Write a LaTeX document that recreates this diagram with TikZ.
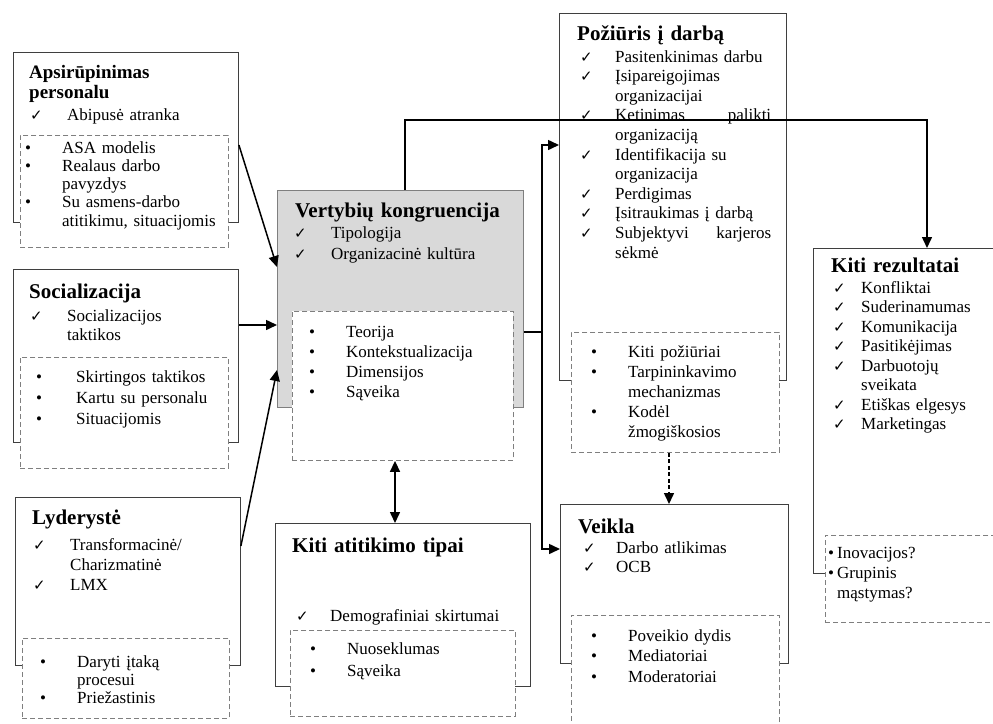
\documentclass[tikz,border=0pt]{standalone}
\usepackage{fontspec}
\setmainfont{Liberation Serif}
\newfontfamily\symfont{DejaVu Sans}
\usetikzlibrary{arrows.meta,positioning}
\definecolor{boxline}{HTML}{3F3F3F}
\definecolor{dashline}{HTML}{7F7F7F}
\definecolor{corefill}{HTML}{D9D9D9}
\newcommand{\cmk}{{\symfont\fontsize{15}{15}\selectfont ✓}}
\newcommand{\bul}{•}
\newcommand{\nl}{\hfil\break}
\newcommand{\jst}[2]{\hbox to 156pt{#1\hfill #2}}
\newcommand{\itm}[3][37pt]{\hangindent=#1\hangafter=1\noindent\makebox[#1][l]{#2}#3\par}
\tikzset{
  wh/.style 2 args={minimum width=#1pt,minimum height=#2pt},
  box/.style={draw=boxline,line width=0.9pt,fill=white,inner sep=0pt,anchor=north west},
  corebox/.style={box,draw=dashline,fill=corefill},
  dbox/.style={draw=dashline,line width=0.9pt,dash pattern=on 5pt off 3pt,fill=white,inner sep=0pt,anchor=north west},
  ttl/.style={anchor=base west,inner sep=0pt,text width=230pt,align=left,font=\fontsize{21}{20}\selectfont\bfseries},
  lst/.style={anchor=base west,inner sep=0pt,text width=220pt,align=left,font=\fontsize{17}{#1}\selectfont},
  lst/.default=18pt,
  link/.style={line width=1.5pt},
  conn/.style={-{Triangle[length=11pt,width=10pt]},line width=1.5pt},
  biconn/.style={{Triangle[length=11pt,width=10pt]}-{Triangle[length=11pt,width=10pt]},line width=1.5pt},
}
\begin{document}
\begin{tikzpicture}[x=1pt,y=-1pt]
  \useasboundingbox (0,0) rectangle (993,723);
  \node[box,wh={225}{170}] (apsi) at (13,52) {};
  \node[box,wh={225}{173}] (soc) at (13,269) {};
  \node[box,wh={225}{168}] (lyd) at (15,497) {};
  \node[corebox,wh={246}{217}] (vert) at (277,190) {};
  \node[box,wh={255}{163}] (kat) at (275,523) {};
  \node[box,wh={227}{367}] (poz) at (559,13) {};
  \node[box,wh={228}{159}] (veik) at (560,504) {};
  \node[box,wh={200}{325}] (kr) at (813,248) {};
  \node[dbox,wh={208}{112}] (apsid) at (20,135) {};
  \node[dbox,wh={208}{111}] (socd) at (20,357) {};
  \node[dbox,wh={207}{80}] (lydd) at (22,638) {};
  \node[dbox,wh={221}{149}] (vertd) at (292,311) {};
  \node[dbox,wh={225}{86}] (katd) at (290,630) {};
  \node[dbox,wh={208}{120}] (pozd) at (571,332) {};
  \node[dbox,wh={208}{115}] (veikd) at (571,615) {};
  \node[dbox,wh={190}{87}] (krd) at (825,535) {};

  \node[ttl,font=\fontsize{19}{20}\selectfont\bfseries] (apsit) at (29,78) {Apsirūpinimas\nl personalu};
  \node[lst] (apsic) at (30,120) {\itm{\cmk}{Abipusė atranka}};
  \node[lst=18.3pt] (apsib) at (25,153) {\itm{\bul}{ASA modelis}\itm{\bul}{Realaus darbo\nl pavyzdys}\itm{\bul}{Su asmens-darbo\nl atitikimu, situacijomis}};

  \node[ttl] (soct) at (29,298) {Socializacija};
  \node[lst=19pt] (socc) at (30,321) {\itm{\cmk}{Socializacijos\nl taktikos}};
  \node[lst=21pt] (socb) at (36,382) {\itm[40pt]{\bul}{Skirtingos taktikos}\itm[40pt]{\bul}{Kartu su personalu}\itm[40pt]{\bul}{Situacijomis}};

  \node[ttl] (lydt) at (32,524) {Lyderystė};
  \node[lst=20pt] (lydc) at (33,550) {\itm{\cmk}{Transformacinė/\nl Charizmatinė}\itm{\cmk}{LMX}};
  \node[lst] (lydb) at (40,667) {\itm{\bul}{Daryti įtaką\nl procesui}\itm{\bul}{Priežastinis}};

  \node[ttl] (vertt) at (295,217) {Vertybių kongruencija};
  \node[lst=21pt] (vertc) at (294,238) {\itm{\cmk}{Tipologija}\itm{\cmk}{Organizacinė kultūra}};
  \node[lst=20.3pt] (vertb) at (309,337) {\itm{\bul}{Teorija}\itm{\bul}{Kontekstualizacija}\itm{\bul}{Dimensijos}\itm{\bul}{Sąveika}};

  \node[ttl] (katt) at (292,552) {Kiti atitikimo tipai};
  \node[lst] (katc) at (296,621) {\itm[34pt]{\cmk}{Demografiniai skirtumai}};
  \node[lst=22pt] (katb) at (310,654) {\itm{\bul}{Nuoseklumas}\itm{\bul}{Sąveika}};

  \node[ttl] (pozt) at (577,40) {Požiūris į darbą};
  \node[lst=19.6pt] (pozc) at (580,62) {\itm[35pt]{\cmk}{Pasitenkinimas darbu}\itm[35pt]{\cmk}{Įsipareigojimas\nl organizacijai}\itm[35pt]{\cmk}{\jst{Ketinimas}{palikti}\nl organizaciją}\itm[35pt]{\cmk}{Identifikacija su\nl organizacija}\itm[35pt]{\cmk}{Perdigimas}\itm[35pt]{\cmk}{Įsitraukimas į darbą}\itm[35pt]{\cmk}{\jst{Subjektyvi}{karjeros}\nl sėkmė}};
  \node[lst=20pt] (pozb) at (591,357) {\itm{\bul}{Kiti požiūriai}\itm{\bul}{Tarpininkavimo\nl mechanizmas}\itm{\bul}{Kodėl\nl žmogiškosios}};

  \node[ttl] (veikt) at (578,533) {Veikla};
  \node[lst=19pt] (veikc) at (583,553) {\itm[33pt]{\cmk}{Darbo atlikimas}\itm[33pt]{\cmk}{OCB}};
  \node[lst=20.5pt] (veikb) at (591,641) {\itm{\bul}{Poveikio dydis}\itm{\bul}{Mediatoriai}\itm{\bul}{Moderatoriai}};

  \node[ttl] (krt) at (831,272) {Kiti rezultatai};
  \node[lst=19.5pt] (krc) at (833,293) {\itm[28pt]{\cmk}{Konfliktai}\itm[28pt]{\cmk}{Suderinamumas}\itm[28pt]{\cmk}{Komunikacija}\itm[28pt]{\cmk}{Pasitikėjimas}\itm[28pt]{\cmk}{Darbuotojų\nl sveikata}\itm[28pt]{\cmk}{Etiškas elgesys}\itm[28pt]{\cmk}{Marketingas}};
  \node[lst=20pt] (krb) at (828,558) {\itm[9pt]{\bul}{Inovacijos?}\itm[9pt]{\bul}{Grupinis\nl mąstymas?}};

  \draw[conn] (apsi.east |- 0,145) -- (vert.west |- 0,267);
  \draw[conn] (soc.east |- 0,325) -- (vert.west |- 0,325);
  \draw[conn] (lyd.east |- 0,546) -- (vert.west |- 0,370);
  \draw[conn] (vert.north -| 405,0) |- (927,120) -- (kr.north -| 927,0);
  \draw[link] (vert.east |- 0,332) -- (542,332);
  \draw[biconn] (poz.west |- 0,145) -| (542,549) -- (veik.west |- 0,549);
  \draw[biconn] (vertd.south -| 395,0) -- (kat.north -| 395,0);
  \draw[conn,dash pattern=on 4pt off 2.5pt] (pozd.south -| 669,0) -- (veik.north -| 669,0);
\end{tikzpicture}
\end{document}
